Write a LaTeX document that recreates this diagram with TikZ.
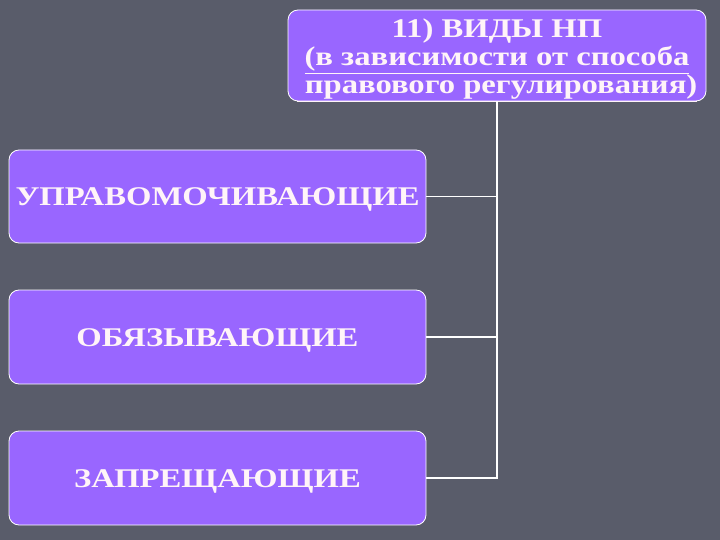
\documentclass[tikz,border=0pt]{standalone}
\usepackage{fontspec}
\setmainfont{Liberation Serif}[FakeStretch=1.21]
\definecolor{bgc}{HTML}{595C6A}
\definecolor{boxc}{HTML}{9966FF}
\definecolor{txtc}{HTML}{FFF4F8}
\tikzset{
  box/.style={draw=white, line width=0.8pt, fill=boxc, rounded corners=10pt, text=txtc, font=\bfseries\fontsize{27}{28}\selectfont, align=center, inner sep=0pt},
  lbl/.style={text=txtc, font=\bfseries\fontsize{27}{28}\selectfont, align=center, inner sep=0pt},
  conn/.style={draw=white, line width=1.5pt}
}
\begin{document}
\begin{tikzpicture}[x=1pt,y=-1pt]
\fill[bgc] (0,0) rectangle (720,540);
\useasboundingbox (0,0) rectangle (720,540);
\node[box, minimum width=418pt, minimum height=91pt] (top) at (497,55.5) {};
\node[lbl] (toptxt) at ([yshift=-5pt]top.center)
  {11) ВИДЫ НП\\ \underline{(в зависимости от способа}\\ \underline{\ правового регулирования)}};
\node[box, minimum width=417pt, minimum height=93pt, text height=18pt, text depth=0pt] (b1) at (217.5,196.5) {УПРАВОМОЧИВАЮЩИЕ};
\node[box, minimum width=417pt, minimum height=94pt, text height=18pt, text depth=0pt] (b2) at (217.5,337) {ОБЯЗЫВАЮЩИЕ};
\node[box, minimum width=417pt, minimum height=94pt, text height=18pt, text depth=0pt] (b3) at (217.5,478) {ЗАПРЕЩАЮЩИЕ};
\draw[conn] (top.south) |- (b3.east);
\draw[conn] (b1.east) -- (b1.east -| top.south);
\draw[conn] (b2.east) -- (b2.east -| top.south);
\end{tikzpicture}
\end{document}
